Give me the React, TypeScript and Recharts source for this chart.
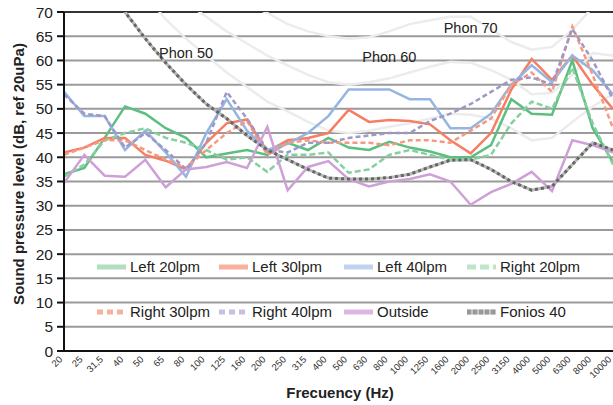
import React from 'react';
import { LineChart, Line, XAxis, YAxis, CartesianGrid, ReferenceLine, ReferenceDot, Legend, Label } from 'recharts';

const FONT = "'Liberation Sans', Arial, sans-serif";

const categories = ['20', '25', '31,5', '40', '50', '65', '80', '100', '125', '160', '200', '250', '315', '400', '500', '630', '800', '1000', '1250', '1600', '2000', '2500', '3150', '4000', '5000', '6300', '8000', '10000'];

const left20 = [36.5, 37.8, 44, 50.5, 49, 46, 44, 40, 40.8, 41.5, 40.5, 43, 41.5, 44, 42, 41.5, 43.2, 42, 41.2, 40, 40, 42.5, 52, 49, 48.8, 60, 46, 39];
const left30 = [41, 42, 44, 44, 40.5, 39.3, 37.5, 43, 47, 47.8, 41.2, 43.5, 44, 45, 49.8, 47.3, 47.7, 47.5, 46.8, 43.5, 40.8, 45, 54, 60.3, 56, 61, 55, 50];
const left40 = [53.5, 48.5, 48.5, 41.5, 45.5, 41, 36, 45, 52, 45.5, 41.5, 42.8, 45, 48.5, 54, 54, 54, 52, 52, 46, 46, 49, 55, 59, 55.5, 61, 58, 53];
const right20 = [36, 38.5, 43.5, 45, 46, 44, 43, 41.5, 39.5, 40, 37, 40.5, 40.5, 41, 36.8, 37.5, 40.5, 41.5, 40.5, 39.5, 39.5, 40.5, 47, 51.5, 50, 58.5, 47, 38.5];
const right30 = [40.5, 42, 43.5, 43.5, 41.5, 39.5, 37.8, 41.5, 45, 47.5, 40.5, 43, 43.5, 43, 43, 43, 42.5, 43.5, 43.5, 43, 45.5, 48, 55, 57.5, 53.5, 67, 57, 46];
const right40 = [53, 49, 48.5, 42, 45, 41.5, 37.5, 43, 53.5, 48, 41.5, 41, 43, 43, 44, 44.5, 45, 45, 47.5, 49, 51, 53.5, 56, 56.5, 55, 66.5, 60, 52];
const outside = [34.7, 40.5, 36.2, 36, 39.5, 33.8, 37.5, 38, 39, 37.8, 46.3, 33.2, 38, 39.2, 35.5, 34, 35, 35.5, 36.5, 35, 30.2, 32.8, 34.5, 37, 33, 43.5, 42.5, 41];
const fonios40 = [86, 81, 75.5, 70, 64.5, 59.5, 55, 51, 48, 44.5, 41.5, 39.5, 37.5, 35.7, 35.5, 35.5, 35.8, 36.5, 38, 39.4, 39.5, 37.5, 35, 33.2, 34, 38.5, 43, 41.5];

const phon50 = [95, 89, 83, 78, 73.5, 68.5, 64.5, 61, 57.5, 54.5, 51.5, 49.5, 47.3, 45.5, 45, 45.5, 46.3, 47, 48, 49, 48.8, 48, 46, 43.5, 44, 47.3, 50.5, 53];
const phon60 = [100, 95, 90, 85, 80.5, 76, 72, 69, 66, 63.5, 61, 59, 57, 55.5, 55, 55.5, 56.3, 57.5, 58.7, 59.7, 59.5, 58, 56, 53, 53.3, 57, 61.5, 61];
const phon70 = [105, 101, 97, 93, 89, 85, 81, 77.5, 74.5, 71.5, 69.8, 67.5, 66, 65, 64.5, 64.8, 66, 67.5, 68.3, 69, 69, 66.5, 63.8, 62.2, 62.8, 66.3, 71, 72];

const yTicks = [0, 5, 10, 15, 20, 25, 30, 35, 40, 45, 50, 55, 60, 65, 70];

const phonLabelText = ['Phon 50', 'Phon 60', 'Phon 70'];
const phonLabelFreq = ['80', '800', '2000'];
const phonLabelLevel = [61.5, 60.7, 66.7];

const data = categories.map((f, i) => ({
  f,
  left20: left20[i],
  left30: left30[i],
  left40: left40[i],
  right20: right20[i],
  right30: right30[i],
  right40: right40[i],
  outside: outside[i],
  fonios40: fonios40[i],
  phon50: phon50[i],
  phon60: phon60[i],
  phon70: phon70[i],
}));

type S = { key: string; name: string; color: string; dash?: string; legendColor: string; legendDash?: string };

const series: S[] = [
  { key: 'left20', name: 'Left 20lpm', color: '#5cbf7f', legendColor: '#b3ddbf' },
  { key: 'left30', name: 'Left 30lpm', color: '#f47f64', legendColor: '#f7b19e' },
  { key: 'left40', name: 'Left 40lpm', color: '#95b5e3', legendColor: '#c0d2ee' },
  { key: 'right20', name: 'Right 20lpm', color: '#84d09e', dash: '6 3', legendColor: '#bfe5c9', legendDash: '9 4' },
  { key: 'right30', name: 'Right 30lpm', color: '#f59a80', dash: '5 3', legendColor: '#f7b09c', legendDash: '6 4' },
  { key: 'right40', name: 'Right 40lpm', color: '#9e98c8', dash: '5 3', legendColor: '#c6c2de', legendDash: '6 4' },
  { key: 'outside', name: 'Outside', color: '#cfa0d8', legendColor: '#dbb7e1' },
  { key: 'fonios40', name: 'Fonios 40', color: '#666666', dash: '3 3', legendColor: '#999999', legendDash: '4 2' },
];

const colX = [97, 219, 344, 467];
const rowY = [267, 312];

const LegendContent = () => (
  <div style={{ position: 'relative', width: 613, height: 0 }}>
    {series.map((s, i) => {
      const col = i % 4;
      const row = Math.floor(i / 4);
      return (
        <div
          key={s.key}
          style={{
            position: 'absolute',
            left: colX[col],
            top: rowY[row] - 11,
            height: 22,
            display: 'flex',
            alignItems: 'center',
            whiteSpace: 'nowrap',
          }}
        >
          <svg width={29} height={8} style={{ display: 'block' }}>
            {s.key === 'fonios40' && <line x1={0} y1={4} x2={29} y2={4} stroke="#c4c4c4" strokeWidth={5} />}
            <line x1={0} y1={4} x2={29} y2={4} stroke={s.legendColor} strokeWidth={5} strokeDasharray={s.legendDash} />
          </svg>
          <span style={{ marginLeft: 4, fontSize: 15, fontFamily: FONT, color: '#222', lineHeight: '22px' }}>{s.name}</span>
        </div>
      );
    })}
  </div>
);

const XTick = (props: any) => {
  const { x, y, payload } = props;
  const ax = x - 1;
  const ay = y + 9;
  return (
    <text x={ax} y={ay} transform={`rotate(-45, ${ax}, ${ay})`} textAnchor="end" fontSize={9.5} fill="#333" fontFamily={FONT}>
      {payload.value}
    </text>
  );
};

export default function App() {
  return (
    <div style={{ position: 'absolute', left: 0, top: 0, width: 613, height: 405, background: '#fff' }}>
      <LineChart width={613} height={405} data={data} margin={{ top: 12, right: 0, bottom: 0, left: 0 }}>
        <CartesianGrid vertical={false} stroke="#9a9a9a" strokeWidth={2} />
        <XAxis
          dataKey="f"
          type="category"
          interval={0}
          height={54}
          tickLine={false}
          tickSize={0}
          tickMargin={0}
          axisLine={{ stroke: '#111', strokeWidth: 2 }}
          tick={<XTick />}
        >
          <Label
            content={() => (
              <text x={340} y={398} textAnchor="middle" fontSize={15} fontWeight="bold" fill="#222" fontFamily={FONT}>
                Frecuency (Hz)
              </text>
            )}
          />
        </XAxis>
        <YAxis
          type="number"
          domain={[0, 70]}
          ticks={yTicks}
          allowDataOverflow
          width={64}
          tickSize={7}
          tickMargin={4}
          axisLine={{ stroke: '#111', strokeWidth: 2 }}
          tickLine={{ stroke: '#111', strokeWidth: 2 }}
          tick={{ fontSize: 15.5, fill: '#222', fontFamily: FONT }}
        >
          <Label
            content={() => (
              <text x={18} y={174} transform="rotate(-90, 18, 174)" textAnchor="middle" dominantBaseline="central" fontSize={15} fontWeight="bold" fill="#222" fontFamily={FONT}>
                Sound pressure level (dB, ref 20uPa)
              </text>
            )}
          />
        </YAxis>
        <ReferenceLine y={70} stroke="#111" strokeWidth={1.5} />
        <Line dataKey="phon50" stroke="#ececec" strokeWidth={2.5} dot={false} activeDot={false} isAnimationActive={false} legendType="none" />
        <Line dataKey="phon60" stroke="#ececec" strokeWidth={2.5} dot={false} activeDot={false} isAnimationActive={false} legendType="none" />
        <Line dataKey="phon70" stroke="#ececec" strokeWidth={2.5} dot={false} activeDot={false} isAnimationActive={false} legendType="none" />
        <Line dataKey="fonios40" stroke="#b8b8b8" strokeWidth={3} dot={false} activeDot={false} isAnimationActive={false} legendType="none" />
        {series.map((s) => (
          <Line
            key={s.key}
            dataKey={s.key}
            name={s.name}
            stroke={s.color}
            strokeWidth={s.key === 'fonios40' ? 3 : 2.5}
            strokeDasharray={s.dash}
            dot={false}
            activeDot={false}
            isAnimationActive={false}
          />
        ))}
        {phonLabelText.map((t, i) => (
          <ReferenceDot
            key={t}
            x={phonLabelFreq[i]}
            y={phonLabelLevel[i]}
            r={0}
            fill="none"
            stroke="none"
            label={{ value: t, position: 'center', fontSize: 14.5, fill: '#222', fontFamily: FONT }}
          />
        ))}
        <Legend content={<LegendContent />} wrapperStyle={{ left: 0, top: 0, width: 613, height: 0 }} />
      </LineChart>
    </div>
  );
}
